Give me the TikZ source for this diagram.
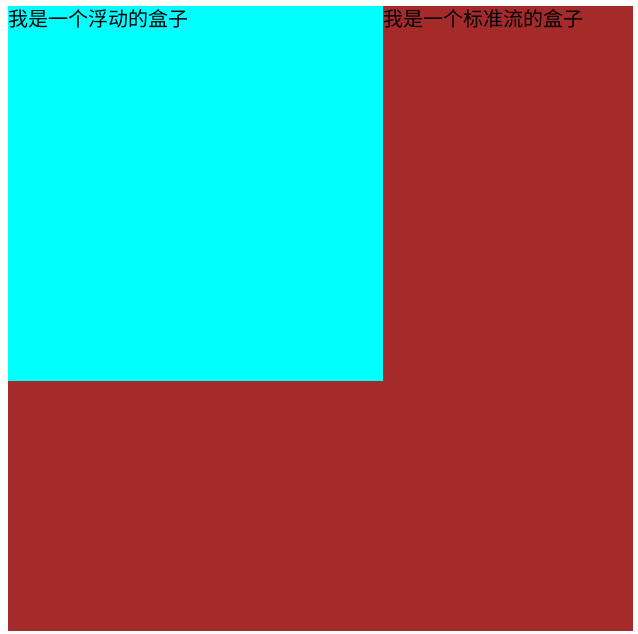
\documentclass[tikz,border=0pt]{standalone}
\usepackage{fontspec}
\usepackage{xcolor}
\usepackage{tikz}
\usetikzlibrary{positioning}
\newfontfamily\cjk{Noto Sans CJK SC}
\definecolor{cFlow}{HTML}{A52A2A}
\definecolor{cFloat}{HTML}{00FFFF}
\tikzset{
  boxfill/.style={draw=none, fill=#1, inner sep=0pt, outer sep=0pt},
  lbl/.style={font=\cjk\fontsize{20}{20}\selectfont, text=black, inner sep=0pt, anchor=base west},
}

\begin{document}
\begin{tikzpicture}[x=1pt, y=-1pt]
  \useasboundingbox (0,0) rectangle (638,634);
  \fill[white] (0,0) rectangle (638,634);
  % normal-flow box, the floating one sits over it
  \node[boxfill=cFlow, minimum width=625pt, minimum height=625pt, anchor=north west] (flow) at (8,6) {};
  \node[boxfill=cFloat, minimum width=375pt, minimum height=375pt, anchor=north west] (float) at (8,6) {};
  \node[lbl] (floattxt) at (8,27) {我是一个浮动的盒子};
  \node[lbl] (flowtxt) at (383,27) {我是一个标准流的盒子};
\end{tikzpicture}
\end{document}
